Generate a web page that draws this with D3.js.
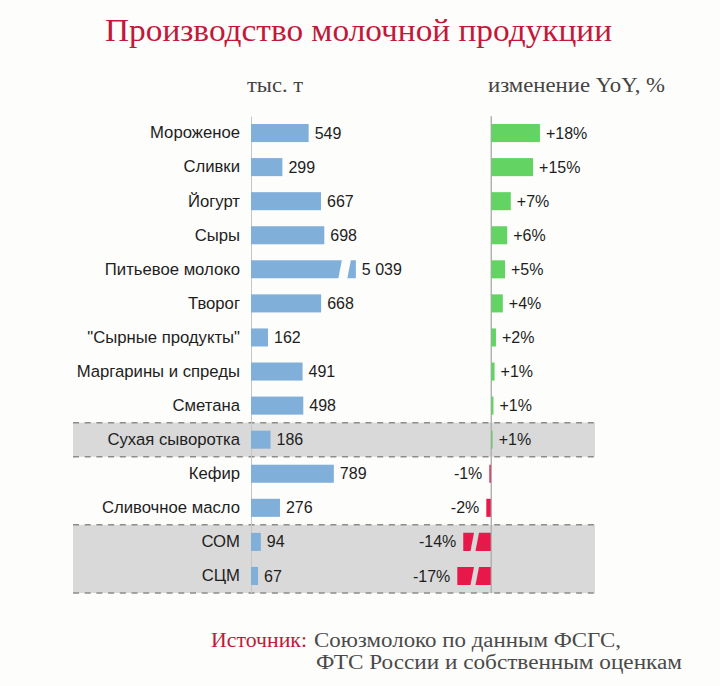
<!DOCTYPE html>
<html>
<head>
<meta charset="utf-8">
<script src="https://cdn.jsdelivr.net/npm/d3@7"></script>
<style>
  html, body { margin: 0; padding: 0; background: #fdfdfb; }
  svg { display: block; }
</style>
</head>
<body>
<svg id="chart" width="720" height="686"></svg>
<script>
// ---------- data ----------
const categories = ["Мороженое", "Сливки", "Йогурт", "Сыры", "Питьевое молоко", "Творог",
  "\"Сырные продукты\"", "Маргарины и спреды", "Сметана", "Сухая сыворотка", "Кефир",
  "Сливочное масло", "СОМ", "СЦМ"];
const volume = [549, 299, 667, 698, 5039, 668, 162, 491, 498, 186, 789, 276, 94, 67];
const yoyChange = [17.8, 15.3, 7.2, 5.9, 5.1, 4.3, 1.8, 1.3, 0.9, 0.6, -0.6, -1.7, -14, -17];
const highlightGroups = [["Сухая сыворотка"], ["СОМ", "СЦМ"]];
const brokenVolume = ["Питьевое молоко"];
const brokenYoy = ["СОМ", "СЦМ"];
const titleText = "Производство молочной продукции";
const unitLeft = "тыс. т";
const unitRight = "изменение YoY, %";
const sourceLabel = "Источник:";
const sourceLines = ["Союзмолоко по данным ФСГС,", "ФТС России и собственным оценкам"];

// ---------- setup ----------
const svg = d3.select("#chart");
const SANS = "'Liberation Sans', Arial, sans-serif";
const SERIF = "'Liberation Serif', 'Times New Roman', serif";
const BG = "#fdfdfb";
svg.append("rect").attr("width", 720).attr("height", 686).attr("fill", BG);

const rows = categories.map((c, i) => ({ cat: c, vol: volume[i], yoy: yoyChange[i] }));

const y = d3.scaleBand().domain(categories).range([116, 593])
  .paddingInner(0.47).paddingOuter(0.235);
const bw = y.bandwidth();
const gapHalf = (y.step() - bw) / 2;

const leftAxisX = 251, rightAxisX = 491;
// broken scale for very large volume (Питьевое молоко)
const xL = d3.scaleLinear().domain([0, 900, 5100]).range([leftAxisX, leftAxisX + 94.5, leftAxisX + 105]);
const xR = d3.scaleLinear().domain([-20, 20]).range([rightAxisX - 55, rightAxisX + 55]);
const breakCompress = 0.72;

const fmtVol = d3.formatLocale({ decimal: ",", thousands: " ", grouping: [3], currency: ["", ""] }).format(",.0f");
const fmtPct = v => (v >= 0 ? "+" : "-") + Math.abs(Math.round(v)) + "%";

// ---------- highlight bands ----------
const bandG = svg.append("g");
highlightGroups.forEach(g => {
  const y0 = y(g[0]) - gapHalf;
  const y1 = y(g[g.length - 1]) + bw + gapHalf;
  bandG.append("rect").attr("x", 73).attr("y", y0).attr("width", 522).attr("height", y1 - y0)
    .attr("fill", "#d9d9d9");
  [y0, y1].forEach(yy => bandG.append("line")
    .attr("x1", 73).attr("x2", 595).attr("y1", yy).attr("y2", yy)
    .attr("stroke", "#8c8c8c").attr("stroke-width", 1.5).attr("stroke-dasharray", "6,5.7"));
});

// ---------- title & headers ----------
svg.append("text").attr("x", 105).attr("y", 41).attr("font-family", SERIF).attr("font-size", 31)
  .attr("fill", "#c2183a").attr("textLength", 507).attr("lengthAdjust", "spacingAndGlyphs").text(titleText);
svg.append("text").attr("x", 247).attr("y", 92).attr("font-family", SERIF).attr("font-size", 20)
  .attr("fill", "#444").attr("textLength", 56).attr("lengthAdjust", "spacingAndGlyphs").text(unitLeft);
svg.append("text").attr("x", 488).attr("y", 92).attr("font-family", SERIF).attr("font-size", 20)
  .attr("fill", "#444").attr("textLength", 177).attr("lengthAdjust", "spacingAndGlyphs").text(unitRight);

// ---------- axes ----------
const axL = svg.append("g").attr("transform", `translate(${leftAxisX},0)`)
  .call(d3.axisLeft(y).tickSize(0).tickPadding(11));
axL.select(".domain").attr("stroke", "#c6c6c6");
axL.selectAll("text").attr("font-family", SANS).attr("font-size", 16.7).attr("fill", "#1e1e1e");

const axR = svg.append("g").attr("transform", `translate(${rightAxisX},0)`)
  .call(d3.axisLeft(y).tickSize(0).tickFormat(""));
axR.select(".domain").attr("stroke", "#b8b8b8");

// ---------- volume bars ----------
const BLUE = "#80b0da";
const volG = svg.append("g");
rows.forEach(d => {
  const y0 = y(d.cat), y1 = y0 + bw;
  const x0 = xL(0), E = xL(d.vol);
  if (brokenVolume.includes(d.cat)) {
    const p1 = [[x0, y0], [E - 14, y0], [E - 17.5, y1], [x0, y1]];
    const p2 = [[E - 5, y0], [E, y0], [E, y1], [E - 8.5, y1]];
    [p1, p2].forEach(p => volG.append("polygon").attr("points", p.map(q => q.join(",")).join(" ")).attr("fill", BLUE));
  } else {
    volG.append("rect").attr("x", x0).attr("y", y0).attr("width", E - x0).attr("height", bw).attr("fill", BLUE);
  }
  volG.append("text").attr("x", E + 6).attr("y", y0 + bw / 2).attr("dy", "0.35em")
    .attr("font-family", SANS).attr("font-size", 16).attr("fill", "#1e1e1e").text(fmtVol(d.vol));
});

// ---------- YoY bars ----------
const GREEN = "#63d463", RED = "#e8194a";
const yoyG = svg.append("g");
rows.forEach(d => {
  const y0 = y(d.cat), y1 = y0 + bw;
  const A = xR(0);
  const broken = brokenYoy.includes(d.cat);
  const v = broken ? d.yoy * breakCompress : d.yoy;
  const E = xR(v);
  const col = d.yoy >= 0 ? GREEN : RED;
  if (broken) {
    const p1 = [[E, y0], [A - 17, y0], [A - 20.5, y1], [E, y1]];
    const p2 = [[A - 12, y0], [A, y0], [A, y1], [A - 15.5, y1]];
    [p1, p2].forEach(p => yoyG.append("polygon").attr("points", p.map(q => q.join(",")).join(" ")).attr("fill", col));
  } else {
    yoyG.append("rect").attr("x", Math.min(A, E)).attr("y", y0).attr("width", Math.abs(E - A))
      .attr("height", bw).attr("fill", col);
  }
  const pos = d.yoy >= 0;
  yoyG.append("text").attr("x", pos ? E + 6 : E - 7).attr("y", y0 + bw / 2).attr("dy", "0.35em")
    .attr("text-anchor", pos ? "start" : "end")
    .attr("font-family", SANS).attr("font-size", 16).attr("fill", "#1e1e1e").text(fmtPct(d.yoy));
});
// redraw right axis line on top
svg.append("line").attr("x1", rightAxisX).attr("x2", rightAxisX).attr("y1", 116).attr("y2", 593)
  .attr("stroke", "#a8a8a8").attr("stroke-width", 1).attr("opacity", 0.8);

// ---------- source ----------
svg.append("text").attr("x", 211).attr("y", 647).attr("font-family", SERIF).attr("font-size", 20)
  .attr("fill", "#c2183a").attr("textLength", 96).attr("lengthAdjust", "spacingAndGlyphs").text(sourceLabel);
svg.append("text").attr("x", 314).attr("y", 647).attr("font-family", SERIF).attr("font-size", 20)
  .attr("fill", "#4a4a4a").attr("textLength", 307).attr("lengthAdjust", "spacingAndGlyphs").text(sourceLines[0]);
svg.append("text").attr("x", 316).attr("y", 669).attr("font-family", SERIF).attr("font-size", 20)
  .attr("fill", "#4a4a4a").attr("textLength", 366).attr("lengthAdjust", "spacingAndGlyphs").text(sourceLines[1]);
</script>
</body>
</html>
